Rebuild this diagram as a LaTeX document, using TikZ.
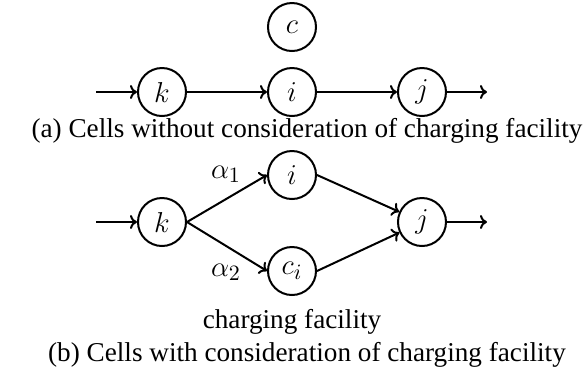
\documentclass[tikz,border=0pt]{standalone}
\usepackage{fontspec}
\setmainfont{Liberation Serif}
\usetikzlibrary{arrows.meta}
\begin{document}
\begin{tikzpicture}[x=0.5pt,y=-0.5pt,
  cell/.style={circle,draw,line width=1pt,minimum size=24pt,inner sep=0pt,font=\fontsize{15.5}{17}\selectfont},
  flow/.style={line width=1pt,-{To[length=3.5pt,width=7pt]}},
  lbl/.style={font=\fontsize{15}{17}\selectfont},
  captxt/.style={font=\fontsize{13.6}{16}\selectfont}]
\useasboundingbox (0,0) rectangle (585,382);
% (a)
\node[cell] (c) at (292,27) {$c$};
\node[cell] (k1) at (162,92) {$k$};
\node[cell] (i1) at (292,92) {$i$};
\node[cell] (j1) at (422,92) {$j$};
\coordinate (s1) at (96,92);
\coordinate (e1) at (487,92);
\draw[flow] (s1) -- (k1);
\draw[flow] (k1) -- (i1);
\draw[flow] (i1) -- (j1);
\draw[flow] (j1) -- (e1);
\node[captxt] (capa) at (307,131) {(a) Cells without consideration of charging facility};
% (b)
\node[cell] (k2) at (162,222) {$k$};
\node[cell] (i2) at (292,175) {$i$};
\node[cell] (ci) at (292,271) {$c_i$};
\node[cell] (j2) at (422,222) {$j$};
\coordinate (s2) at (96,222);
\coordinate (e2) at (487,222);
\draw[flow] (s2) -- (k2);
\draw[flow] (k2.east) -- (i2.west);
\draw[flow] (k2.east) -- (ci.west);
\draw[flow] (i2.east) -- (j2);
\draw[flow] (ci.east) -- (j2);
\draw[flow] (j2) -- (e2);
\node[lbl] (a1) at (226,174) {$\alpha_1$};
\node[lbl] (a2) at (226,272) {$\alpha_2$};
\node[captxt] (cf) at (292,322) {charging facility};
\node[captxt] (capb) at (307,355) {(b) Cells with consideration of charging facility};
\end{tikzpicture}
\end{document}
